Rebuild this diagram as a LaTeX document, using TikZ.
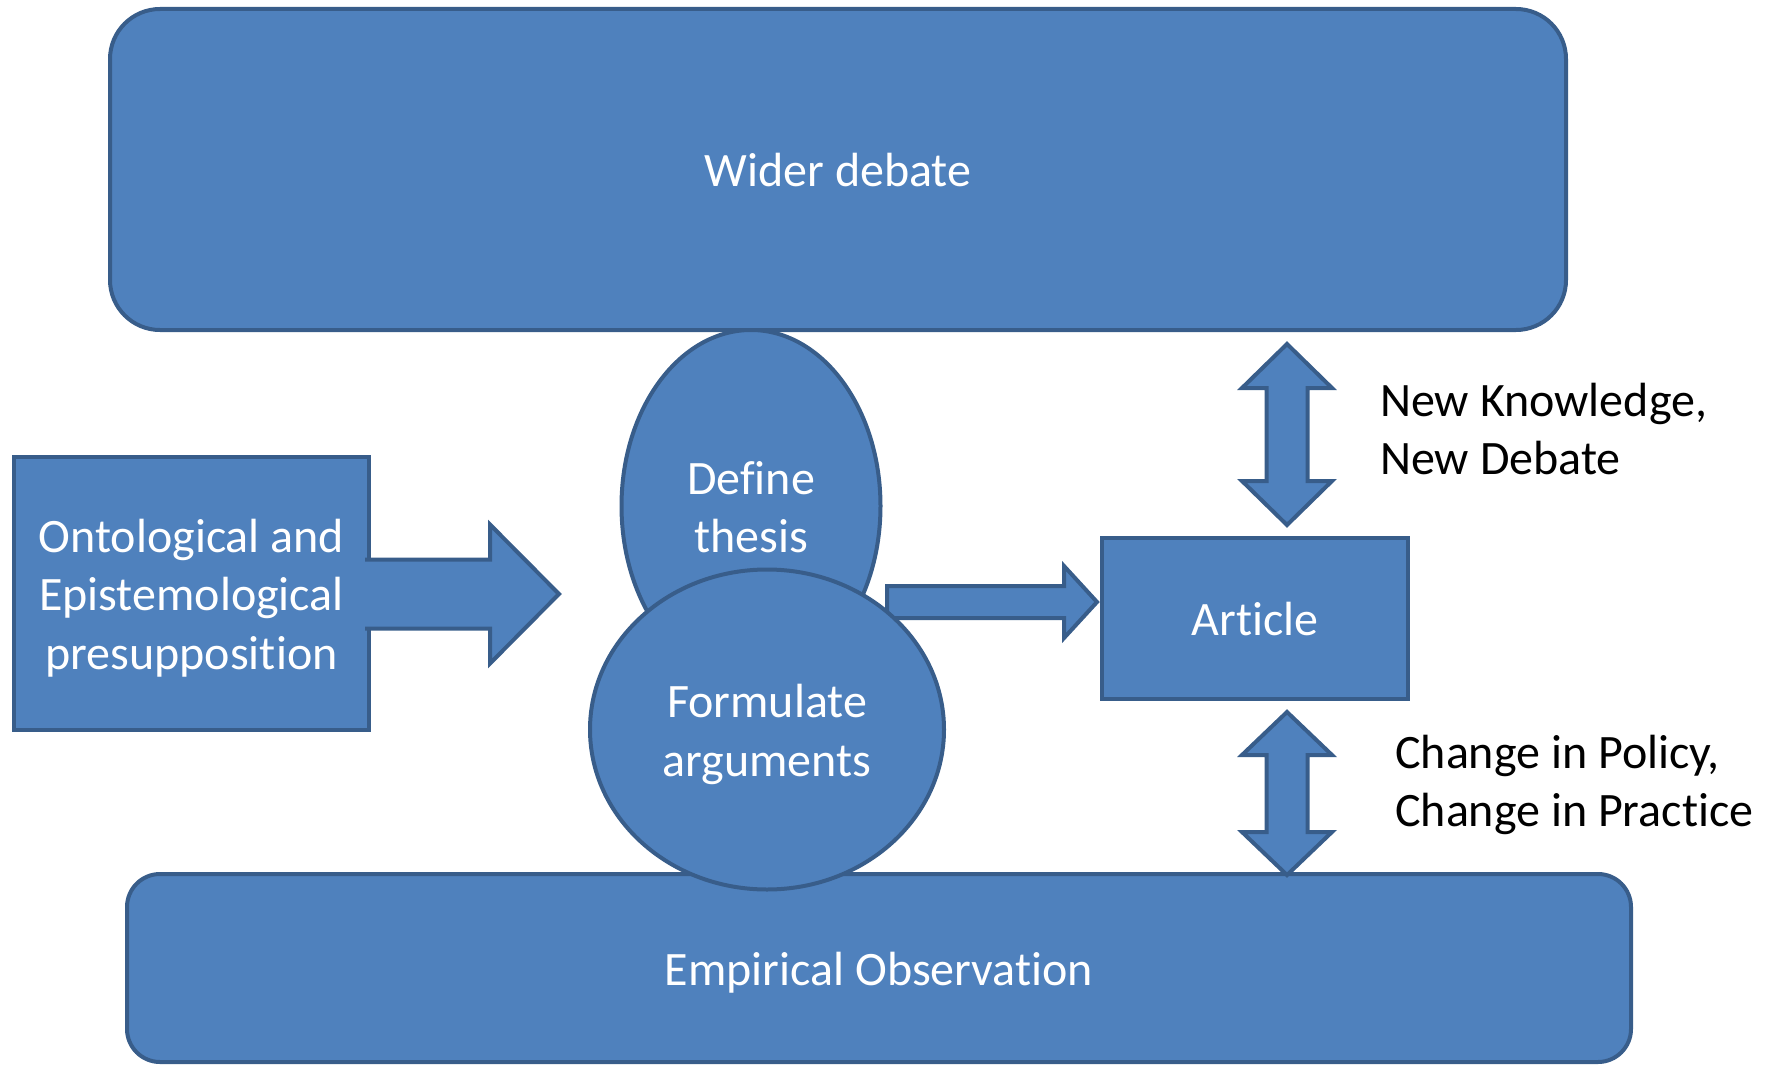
\documentclass[tikz,border=0pt]{standalone}
\usepackage{fontspec}
\setmainfont{Carlito}[Ligatures={NoCommon}]
\usetikzlibrary{shapes.geometric,calc}

\definecolor{boxfill}{HTML}{4F81BD}
\definecolor{boxline}{HTML}{385D8A}

% line strut so every text line is centred by its full line box
\newcommand{\ls}{\rule[-11.7pt]{0pt}{58pt}}

\tikzset{
  shapebase/.style={fill=boxfill, draw=boxline, line width=4pt, text=white,
    inner sep=0pt, align=center, font=\fontsize{48}{58.5}\selectfont},
  roundbox/.style={shapebase, rectangle, rounded corners=#1},
  squarebox/.style={shapebase, rectangle},
  bubble/.style={shapebase, ellipse},
  blockarrow/.style={fill=boxfill, draw=boxline, line width=4pt, line join=miter},
  note/.style={text=black, align=left, inner sep=0pt,
    font=\fontsize{48}{58}\selectfont},
}

% right-pointing block arrow: start, tip, body half-height, head half-height, head length, closing
\newcommand{\rightblock}[6]{%
  \path[blockarrow] let \p1=(#1), \p2=(#2) in
    (\x1,{\y2+#3pt}) -- ({\x2-#5pt},{\y2+#3pt}) -- ({\x2-#5pt},{\y2+#4pt})
    -- (\x2,\y2) -- ({\x2-#5pt},{\y2-#4pt}) -- ({\x2-#5pt},{\y2-#3pt})
    -- (\x1,{\y2-#3pt}) #6;
}
% vertical double block arrow: top tip, bottom tip, shaft half-width, head half-width, head length
\newcommand{\updownblock}[5]{%
  \path[blockarrow] let \p1=(#1), \p2=(#2) in
    (\x1,\y1) -- ({\x1+#4pt},{\y1-#5pt}) -- ({\x1+#3pt},{\y1-#5pt})
    -- ({\x1+#3pt},{\y2+#5pt}) -- ({\x1+#4pt},{\y2+#5pt}) -- (\x1,\y2)
    -- ({\x1-#4pt},{\y2+#5pt}) -- ({\x1-#3pt},{\y2+#5pt})
    -- ({\x1-#3pt},{\y1-#5pt}) -- ({\x1-#4pt},{\y1-#5pt}) -- cycle;
}

\begin{document}
\begin{tikzpicture}[x=1pt, y=-1pt]
  \useasboundingbox (0,0) rectangle (1767,1065);

  % frame boxes
  \node[roundbox=50pt, minimum width=1456pt, minimum height=321pt] (wider) at (838,169.5) {\ls Wider debate};
  \node[roundbox=33pt, minimum width=1504pt, minimum height=188pt] (empirical) at (879,968) {\ls Empirical Observation};

  % left input box and its arrow
  \node[squarebox, minimum width=355pt, minimum height=273pt] (onto) at (191.5,593.5)
    {\ls Ontological and\\\ls Epistemological\\\ls presupposition};
  \coordinate (a1s) at ([xshift=-6pt]onto.east);
  \coordinate (a1t) at (559,594);
  \rightblock{a1s}{a1t}{34.5}{69.5}{69}{}

  % output box
  \node[squarebox, minimum width=306pt, minimum height=161pt] (article) at (1255,618.5) {\ls Article};

  % double arrows
  \coordinate (k1top) at (1287,344);
  \coordinate (k1bot) at (1287,525);
  \updownblock{k1top}{k1bot}{20.5}{45}{44}
  \coordinate (k2top) at (1287,712);
  \coordinate (k2bot) at (1287,875);
  \updownblock{k2top}{k2bot}{20.5}{45}{43}

  % central bubbles
  \node[bubble, minimum width=259pt, minimum height=352pt] (define) at (751,506) {\ls Define\\\ls thesis};
  \coordinate (a2s) at (887,602);
  \coordinate (a2t) at ($(article.west |- a2s)+(-3,0)$);
  \rightblock{a2s}{a2t}{16}{36}{33}{-- cycle}
  \node[bubble, minimum width=354pt, minimum height=320pt] (formulate) at (767,729.5) {\ls Formulate\\\ls arguments};

  % side labels (anchored on the baseline of their last line)
  \node[note, anchor=base west] (knowledge) at (1380,474) {New Knowledge,\\New Debate};
  \node[note, anchor=base west] (policy) at (1395,826) {Change in Policy,\\Change in Practice};
\end{tikzpicture}
\end{document}
